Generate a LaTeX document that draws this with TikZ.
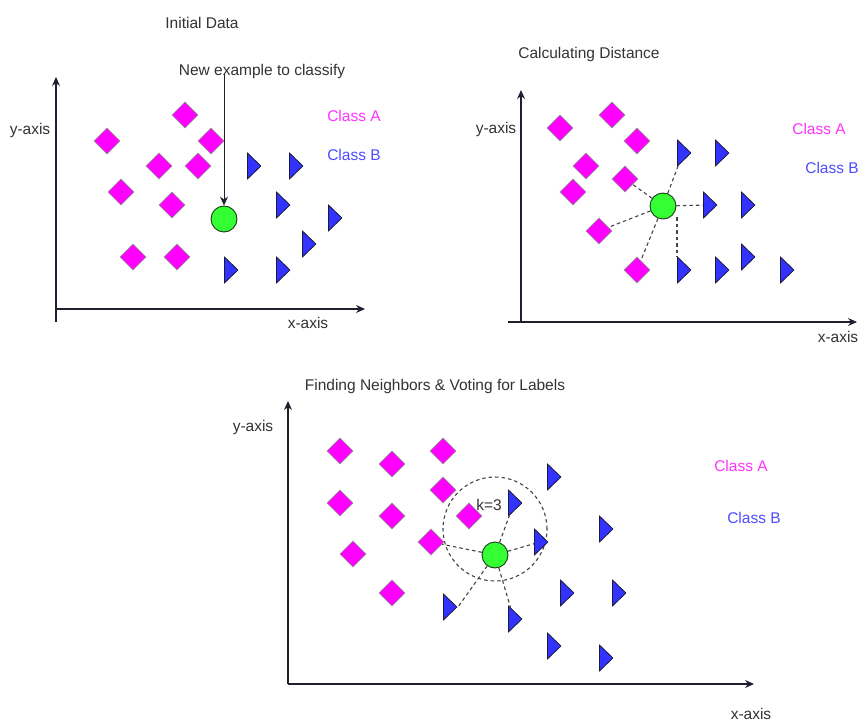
\documentclass[tikz,border=0pt]{standalone}
\usepackage{fontspec}
\setmainfont{Liberation Sans}
\usetikzlibrary{shapes.geometric,arrows.meta,calc}
\definecolor{txt}{HTML}{333333}
\definecolor{magF}{HTML}{FF00FF}
\definecolor{diaedge}{HTML}{9A8A9A}
\definecolor{blueF}{HTML}{3333FF}
\definecolor{triedge}{HTML}{1A1A3A}
\definecolor{greenF}{HTML}{33FF33}
\definecolor{greenedge}{HTML}{1A3A1A}
\definecolor{classA}{HTML}{FF33FF}
\definecolor{classB}{HTML}{4D4DFF}
\definecolor{axiscol}{HTML}{1F1F2F}
\definecolor{distcol}{HTML}{444444}
\begin{document}
\begin{tikzpicture}[x=1pt,y=-1pt,
  dia/.style={diamond, draw=diaedge, fill=magF, minimum width=26pt, minimum height=26pt, inner sep=0pt, line width=0.8pt},
  tri/.style={isosceles triangle, isosceles triangle stretches, shape border rotate=0, draw=triedge, fill=blueF, minimum width=26pt, minimum height=13.5pt, inner sep=0pt, anchor=lower side, line width=0.8pt},
  newpt/.style={circle, draw=greenedge, fill=greenF, minimum size=26pt, inner sep=0pt, line width=0.9pt},
  lbl/.style={text=txt, font=\fontsize{15.5}{18}\selectfont, inner sep=0pt},
  axis/.style={draw=axiscol, line width=1.2pt, -{Stealth[length=9pt,width=8pt]}},
  dist/.style={draw=distcol, dash pattern=on 3.5pt off 3pt, line width=1.1pt},
]
\useasboundingbox[fill=white] (0,0) rectangle (859,722);

% ---------------- Panel 1 ----------------
\node[lbl] (t1) at (202,23) {Initial Data};
\node[lbl] (nt) at (262,71) {New example to classify};
\node[lbl] (ya1) at (30,130) {y-axis};
\node[lbl] (xa1) at (308,323) {x-axis};
\node[lbl, text=classA] (ca1) at (354,116) {Class A};
\node[lbl, text=classB] (cb1) at (354,155) {Class B};
\coordinate (yb1) at (56,322);
\coordinate (yt1) at (56,77);
\coordinate (o1) at (56,309);
\coordinate (xe1) at (365,309);
\draw[axis] (yb1) -- (yt1);
\draw[axis] (o1) -- (xe1);
\foreach \n/\x/\y in {a/185/115, b/107/141, c/211/141, d/159/166, e/198/166, f/121/192, g/172/205, h/133/257, i/177/257}
  \node[dia] (d1\n) at (\x,\y) {};
\foreach \n/\x/\y in {a/247/166, b/289/166, c/276/205, d/328/218, e/302/244, f/224/270, g/276/270}
  \node[tri] (t1\n) at (\x,\y) {};
\node[newpt] (c1) at (224,219) {};
\coordinate (as1) at (224,74);
\draw[axiscol, line width=1pt, -{Stealth[length=9pt,width=8pt]}] (as1) -- (c1.north);

% ---------------- Panel 2 ----------------
\node[lbl] (t2) at (589,54) {Calculating Distance};
\node[lbl] (ya2) at (496,129) {y-axis};
\node[lbl] (xa2) at (838,337) {x-axis};
\node[lbl, text=classA] (ca2) at (819,129) {Class A};
\node[lbl, text=classB] (cb2) at (832,168) {Class B};
\coordinate (yb2) at (521,322);
\coordinate (yt2) at (521,90);
\coordinate (xs2) at (508,322);
\coordinate (xe2) at (857,322);
\draw[axis] (yb2) -- (yt2);
\draw[axis] (xs2) -- (xe2);
\foreach \n/\x/\y in {a/560/128, b/612/115, c/637/141, d/586/166, e/625/179, f/573/192, g/599/231, h/637/270}
  \node[dia] (d2\n) at (\x,\y) {};
\foreach \n/\x/\y in {a/677/153, b/715/153, c/703/205, d/741/205, e/741/257, f/677/270, g/715/270, h/780/270}
  \node[tri] (t2\n) at (\x,\y) {};
\node[newpt] (c2) at (663,206) {};
\draw[dist] (c2) -- (d2e);
\draw[dist] (c2) -- (d2g);
\draw[dist] (c2) -- (d2h);
\draw[dist] (c2) -- (t2a);
\draw[dist] (c2) -- (t2c);
\draw[dist] ($(t2f.lower side)+(0,-53)$) -- ($(t2f.lower side)+(0,-13)$);

% ---------------- Panel 3 ----------------
\node[lbl] (t3) at (435,386) {Finding Neighbors \& Voting for Labels};
\node[lbl] (ya3) at (253,427) {y-axis};
\node[lbl] (xa3) at (751,714) {x-axis};
\node[lbl, text=classA] (ca3) at (741,466) {Class A};
\node[lbl, text=classB] (cb3) at (754,518) {Class B};
\coordinate (o3) at (288,684);
\coordinate (yt3) at (288,401);
\coordinate (xe3) at (754,684);
\draw[axis] (o3) -- (yt3);
\draw[axis] (o3) -- (xe3);
\node[circle, dist, minimum size=104pt, inner sep=0pt] (kc) at (495,529) {};
\foreach \n/\x/\y in {a/340/451, b/392/464, c/443/451, d/443/490, e/340/503, f/392/516, g/469/516, h/431/542, i/353/554, j/392/593}
  \node[dia] (d3\n) at (\x,\y) {};
\foreach \n/\x/\y in {a/547/477, b/508/503, c/534/542, d/599/529, e/560/593, f/612/593, g/443/607, h/508/619, i/547/646, j/599/658}
  \node[tri] (t3\n) at (\x,\y) {};
\node[lbl] (k3) at (489,505) {k=3};
\node[newpt] (c3) at (495,555) {};
\draw[dist] (c3) -- (d3h);
\draw[dist] (c3) -- (t3b);
\draw[dist] (c3) -- (t3c);
\draw[dist] (c3) -- (t3g.apex);
\draw[dist] (c3) -- (t3h);
\end{tikzpicture}
\end{document}
